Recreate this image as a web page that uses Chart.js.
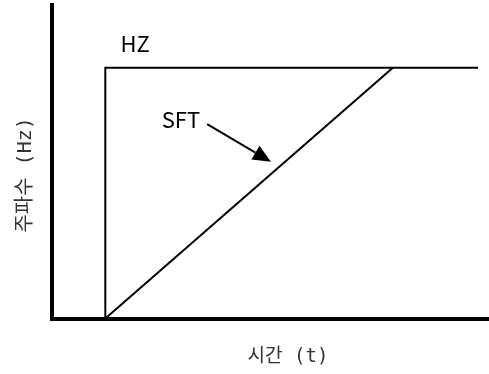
<!DOCTYPE html>
<html><head><meta charset="utf-8">
<script src="https://cdn.jsdelivr.net/npm/chart.js@4/dist/chart.umd.min.js"></script>
<style>html,body{margin:0;padding:0;background:#fff}canvas{display:block}</style>
</head><body>
<canvas id="c" width="489" height="374"></canvas>
<script>
// Data
const timeHZ  = [12.2, 12.2, 97.5];
const freqHZ  = [0, 80, 80];
const timeSFT = [12.2, 78];
const freqSFT = [0, 80];
const seriesNames = ['HZ', 'SFT'];
const xTitle = '시간 (t)';
const yTitle = '주파수 (Hz)';

const toPts = (xs, ys) => xs.map((x, i) => ({x, y: ys[i]}));

const annotations = {
  hzLabel:  {x: 19.0, y: 87.6},
  sftLabel: {x: 29.5, y: 63.3},
  arrowFrom: {x: 35.5, y: 62.0},
  arrowTo:   {x: 50.1, y: 50.0},
  xTitleAt:  {x: 54.0, off: 38.5},
  yTitleAt:  {y: 45.8, px: 26}
};

const textPlugin = {
  id: 'texts',
  afterDraw(chart) {
    const {ctx, scales: {x, y}, chartArea} = chart;
    ctx.save();
    ctx.textAlign = 'center';
    ctx.textBaseline = 'middle';
    ctx.fillStyle = '#000';
    ctx.font = '22px "Noto Sans CJK KR", "DejaVu Sans"';
    ctx.fillText(seriesNames[0], x.getPixelForValue(annotations.hzLabel.x), y.getPixelForValue(annotations.hzLabel.y));
    ctx.fillText(seriesNames[1], x.getPixelForValue(annotations.sftLabel.x), y.getPixelForValue(annotations.sftLabel.y));
    // arrow
    const x1 = x.getPixelForValue(annotations.arrowFrom.x), y1 = y.getPixelForValue(annotations.arrowFrom.y);
    const x2 = x.getPixelForValue(annotations.arrowTo.x), y2 = y.getPixelForValue(annotations.arrowTo.y);
    const ang = Math.atan2(y2 - y1, x2 - x1);
    const hl = 18, hw = 8;
    const bx = x2 - hl * Math.cos(ang), by = y2 - hl * Math.sin(ang);
    ctx.strokeStyle = '#000';
    ctx.lineWidth = 2;
    ctx.beginPath(); ctx.moveTo(x1, y1); ctx.lineTo(bx, by); ctx.stroke();
    ctx.beginPath();
    ctx.moveTo(x2, y2);
    ctx.lineTo(bx + hw * Math.sin(ang), by - hw * Math.cos(ang));
    ctx.lineTo(bx - hw * Math.sin(ang), by + hw * Math.cos(ang));
    ctx.closePath(); ctx.fill();
    // axis titles
    ctx.fillStyle = '#333';
    ctx.font = '19px "DejaVu Sans Mono", "Noto Sans CJK KR"';
    ctx.fillText(xTitle, x.getPixelForValue(annotations.xTitleAt.x), chartArea.bottom + annotations.xTitleAt.off);
    ctx.save();
    ctx.font = '20px "DejaVu Sans Mono", "Noto Sans CJK KR"';
    ctx.translate(annotations.yTitleAt.px, y.getPixelForValue(annotations.yTitleAt.y));
    ctx.rotate(-Math.PI / 2);
    ctx.fillText(yTitle, 0, 0);
    ctx.restore();
    ctx.restore();
  }
};

new Chart(document.getElementById('c'), {
  type: 'scatter',
  data: {
    datasets: [
      {label: seriesNames[0], data: toPts(timeHZ, freqHZ), showLine: true, borderColor: '#000', borderWidth: 2, pointRadius: 0, tension: 0, fill: false},
      {label: seriesNames[1], data: toPts(timeSFT, freqSFT), showLine: true, borderColor: '#000', borderWidth: 2, pointRadius: 0, tension: 0, fill: false}
    ]
  },
  options: {
    responsive: false,
    animation: false,
    devicePixelRatio: 1,
    layout: {padding: {left: 52, top: 5, right: 0, bottom: 55.5}},
    plugins: {legend: {display: false}, tooltip: {enabled: false}},
    scales: {
      x: {type: 'linear', min: 0, max: 100,
          grid: {display: false, drawTicks: false},
          border: {display: true, width: 4, color: '#000'},
          ticks: {display: false}},
      y: {type: 'linear', min: 0, max: 100,
          grid: {display: false, drawTicks: false},
          border: {display: true, width: 4, color: '#000'},
          ticks: {display: false}}
    }
  },
  plugins: [textPlugin]
});
</script>
</body></html>
